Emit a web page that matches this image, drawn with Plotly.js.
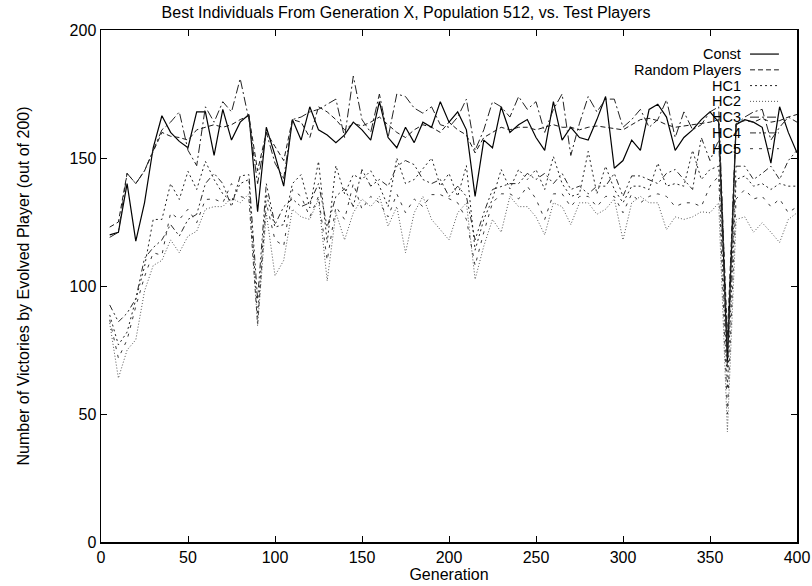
<!DOCTYPE html>
<html>
<head>
<meta charset="utf-8">
<script src="https://cdn.plot.ly/plotly-3.0.1.min.js"></script>
<style>html,body{margin:0;padding:0;background:#fff;}#chart{width:812px;height:586px;}</style>
</head>
<body>
<div id="chart"></div>
<script>
const generations = [5,10,15,20,25,30,35,40,45,50,55,60,65,70,75,80,85,90,95,100,105,110,115,120,125,130,135,140,145,150,155,160,165,170,175,180,185,190,195,200,205,210,215,220,225,230,235,240,245,250,255,260,265,270,275,280,285,290,295,300,305,310,315,320,325,330,335,340,345,350,355,360,365,370,375,380,385,390,395,400];

const constVals = [120,121,140,117.5,132.5,154,166.5,160,156.5,154,168,168,151,169,157,164,167,129,162,151,139,165,157,170,161,159,156,159,164,161,157,172,158,154,162,156,164,162,172,164,168,161,135,157,154,170,160,163,165,158,153,172,157,162,158,157,165,174,146,149,157,153,169,171,166,153,158,161,165,168,164,70,163,165,164,162,148,170,160,152];

const randomVals = [123,125,144,140,145,152.5,160,158.5,158,157,161,162,163,162,163,165,166.5,145,160,154.5,149,165,164,158,170,168,165,161,163.5,162.5,164,166,163,160,158,161,163,162,160,164,161,159,152,158,160,162,161,162,162,161,162,163,162,162,161,162,162.5,162,161.5,161,163,165,165.5,164.6,163,162,162.5,163,163.5,164,165,80,163.5,164.6,164,165.5,164,164.6,166,167];

const hc1Vals = [88.7,77,82,94.5,107.5,126,126,140,133.8,144.8,137.7,148.7,141.6,136,133,140,141.6,88,136,123,124,140,143.5,130.5,148.7,117,147,136,143.5,141.6,145,139,131,150,140,141.6,146,150,139,144,135,147,114,126,134,145.5,138,145.5,141.6,145.5,137.7,150.6,140,135,136,152.6,136,146.8,137.7,132.5,139,139,137.7,148,139,140,139,153,141.6,145.5,146.8,60,141.6,143,139,140,137.7,140,139,139];

const hc2Vals = [85.5,64,75,79,98,108,110,118,113,119.5,121.4,130,131,131,134.4,132.5,136,84.4,128.6,104,110,130,127,126,134,102,128.6,118,128.6,134,131,135,123.4,131,113,128.6,135,126,122,118,128.6,132.5,102.6,115.6,126,121,135,131,131,127,120,132.5,131,124,132.5,132.5,128,130,134,118,132.5,135,132.5,132.5,122,127,126,127,129,128.6,132.5,43,126,127,121,124.7,121,117,126,128.6];

const hc3Vals = [119,121,144,140,145,153,161,164,168,153,147,170,164,172,168,181,165,140,160,148,142,165,166,168,169,171,173,158,182,165,160,175,158,175,174,169.5,167.5,170,163,162,166,173,153,161,172,170,166,174,169,172,160,169,175,151,163.6,174,168,173,173,162,165,169,162,165,172.7,158,168,161,163,168,170,75,163,166,168,169,157,162,166,164];

const hc4Vals = [92.6,86,89.4,95,110.8,115,118,124,119.5,126,128,140,144,140,131,143,143.5,94.8,140,124,131,134,131,132.5,140,123,135,138,131,145.5,139,141.6,139,146.8,149,147.4,141.6,140,141.6,135,139,135,118,128.6,137.7,139,140,140,144,141.6,144,140,144,137.7,139,136,139,139,144,135,143,143,141.6,140,144,145.5,141.6,137.7,158,149,157,68,146.8,146.8,141.6,144,146.8,141.6,149,153];

const hc5Vals = [86.8,71.8,79,92,103.6,113,112,128.6,126,130,124.7,133.8,134,132.5,140,135,134,85,132.5,118,115.6,137.7,135,127,135,110,131,126,140,130,135,132.5,127,136,128.6,134,131,135.7,135.7,134,132.5,126,108,121,132.5,136,136,134,139,134,126,136,136,131,135,135,131,135,135,128.6,136,132.5,135,136,135,131,132.5,132.5,131,139,143,50,134,137.7,134,135,131,134,128.6,131];

const seriesNames = ["Const","Random Players","HC1","HC2","HC3","HC4","HC5"];
const seriesData = [constVals, randomVals, hc1Vals, hc2Vals, hc3Vals, hc4Vals, hc5Vals];
const dashes = ["solid","5px,3px","2px,3px","1px,2px","9px,3px,2px,3px","6px,3px,2px,3px,2px,3px","3px,6px"];
const colors = ["#000000","#1a1a1a","#222222","#555555","#222222","#2a2a2a","#3a3a3a"];
const widths = [1.2,1.0,1.0,1.0,1.0,1.0,1.0];

const FONT = "Liberation Sans, Arial, Helvetica, sans-serif";

const traces = seriesData.map((vals, i) => ({
  x: generations,
  y: vals,
  type: "scatter",
  mode: "lines",
  name: seriesNames[i],
  line: {color: colors[i], width: widths[i], dash: dashes[i]}
}));

// gnuplot-style key: text right-aligned, sample line to the right
const keyTop = 0.953, keyStep = 0.0308;
const annotations = [];
const shapes = [];
seriesNames.forEach((n, i) => {
  const yy = keyTop - i * keyStep;
  annotations.push({
    xref: "paper", yref: "paper", x: 0.921, y: yy,
    xanchor: "right", yanchor: "middle", showarrow: false, borderpad: 0,
    text: n, font: {family: FONT, size: 14.5, color: "#000"}
  });
  shapes.push({
    type: "line", xref: "paper", yref: "paper",
    x0: 0.9325, x1: 0.974, y0: yy, y1: yy,
    line: {color: colors[i], width: widths[i], dash: dashes[i]}
  });
});

const axisCommon = {
  showgrid: false, zeroline: false, showline: true, mirror: "ticks",
  linecolor: "#000", linewidth: 1.5, ticks: "inside", ticklen: 6, tickwidth: 1, tickcolor: "#000",
  tickfont: {family: FONT, size: 16, color: "#000"}
};

const layout = {
  width: 812, height: 586,
  margin: {l: 101, r: 15, t: 30, b: 44},
  paper_bgcolor: "#fff", plot_bgcolor: "#fff",
  showlegend: false,
  title: {text: "Best Individuals From Generation X, Population 512, vs. Test Players",
          font: {family: FONT, size: 16, color: "#000"},
          x: 0.5, xanchor: "center", y: 0.978, yanchor: "middle"},
  xaxis: Object.assign({}, axisCommon, {
    range: [0, 400], tickvals: [0,50,100,150,200,250,300,350,400],
    title: {text: "Generation", font: {family: FONT, size: 16, color: "#000"}, standoff: 0}
  }),
  yaxis: Object.assign({}, axisCommon, {
    range: [0, 200], tickvals: [0,50,100,150,200],
    title: {text: "Number of Victories by Evolved Player (out of 200)", font: {family: FONT, size: 16, color: "#000"}, standoff: 36}
  }),
  annotations: annotations,
  shapes: shapes
};

Plotly.newPlot("chart", traces, layout, {staticPlot: true, displayModeBar: false});
</script>
</body>
</html>
